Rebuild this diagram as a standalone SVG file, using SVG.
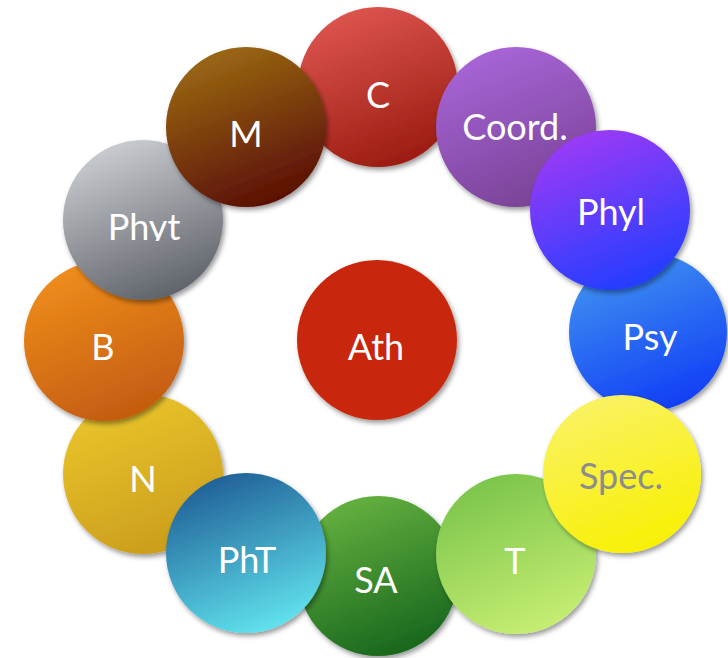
<svg xmlns="http://www.w3.org/2000/svg" width="728" height="658" viewBox="0 0 728 658">
<defs>
<style>
.n circle{filter:url(#sh)}
.t{font-family:Lato,"Noto Sans","DejaVu Sans",sans-serif;font-size:36px;fill:#fff;text-anchor:middle}
</style>
<filter id="sh" x="-20%" y="-20%" width="140%" height="140%">
<feDropShadow dx="2" dy="3" stdDeviation="2.5" flood-color="#000" flood-opacity="0.4"/>
</filter>
<linearGradient id="gC" x1="0.3" y1="0" x2="0.7" y2="1"><stop offset="0" stop-color="#DE5550"/><stop offset="1" stop-color="#991A0E"/></linearGradient>
<linearGradient id="gCo" x1="0.3" y1="0" x2="0.7" y2="1"><stop offset="0" stop-color="#A865D8"/><stop offset="1" stop-color="#784294"/></linearGradient>
<linearGradient id="gPl" x1="0.3" y1="0" x2="0.7" y2="1"><stop offset="0" stop-color="#9E3AF6"/><stop offset="1" stop-color="#1E3EFF"/></linearGradient>
<linearGradient id="gPs" x1="0.3" y1="0" x2="0.7" y2="1"><stop offset="0" stop-color="#4294F0"/><stop offset="1" stop-color="#0F3CF6"/></linearGradient>
<linearGradient id="gSp" x1="0.3" y1="0" x2="0.7" y2="1"><stop offset="0" stop-color="#FAF264"/><stop offset="1" stop-color="#F8F000"/></linearGradient>
<linearGradient id="gT" x1="0.3" y1="0" x2="0.7" y2="1"><stop offset="0" stop-color="#7AC44A"/><stop offset="1" stop-color="#C8EF74"/></linearGradient>
<linearGradient id="gSA" x1="0.3" y1="0" x2="0.7" y2="1"><stop offset="0" stop-color="#66B240"/><stop offset="1" stop-color="#15641C"/></linearGradient>
<linearGradient id="gPh" x1="0.3" y1="0" x2="0.7" y2="1"><stop offset="0" stop-color="#1F5E96"/><stop offset="1" stop-color="#62E6F0"/></linearGradient>
<linearGradient id="gN" x1="0.3" y1="0" x2="0.7" y2="1"><stop offset="0" stop-color="#EAC62C"/><stop offset="1" stop-color="#CA9C1C"/></linearGradient>
<linearGradient id="gB" x1="0.3" y1="0" x2="0.7" y2="1"><stop offset="0" stop-color="#F08E1C"/><stop offset="1" stop-color="#C25A10"/></linearGradient>
<linearGradient id="gPy" x1="0.3" y1="0" x2="0.7" y2="1"><stop offset="0" stop-color="#CBCED2"/><stop offset="1" stop-color="#5C6067"/></linearGradient>
<linearGradient id="gM" x1="0.3" y1="0" x2="0.7" y2="1"><stop offset="0" stop-color="#9C6A14"/><stop offset="1" stop-color="#580C04"/></linearGradient>
<clipPath id="cPy"><rect x="60" y="140" width="170" height="101"/></clipPath>
</defs>
<g id="connectors"/>
<g id="node-C" class="n"><circle cx="378" cy="87" r="80" fill="url(#gC)"/><text class="t" x="378" y="108">C</text></g>
<g id="node-Psy" class="n"><circle cx="648" cy="332" r="79" fill="url(#gPs)"/><text class="t" x="650" y="350">Psy</text></g>
<g id="node-SA" class="n"><circle cx="378" cy="576" r="80" fill="url(#gSA)"/><text class="t" x="376" y="593">SA</text></g>
<g id="node-N" class="n"><circle cx="143" cy="474" r="80" fill="url(#gN)"/><text class="t" x="143" y="492">N</text></g>
<g id="node-Coord" class="n"><circle cx="516" cy="127" r="80" fill="url(#gCo)"/><text class="t" x="515" y="140">Coord.</text></g>
<g id="node-T" class="n"><circle cx="516" cy="554" r="80" fill="url(#gT)"/><text class="t" x="515" y="574">T</text></g>
<g id="node-B" class="n"><circle cx="104" cy="341" r="80" fill="url(#gB)"/><text class="t" x="103" y="360">B</text></g>
<g id="node-Phyl" class="n"><circle cx="610" cy="210" r="80" fill="url(#gPl)"/><text class="t" x="611" y="225">Phyl</text></g>
<g id="node-Spec" class="n"><circle cx="622" cy="474" r="79" fill="url(#gSp)"/><text class="t" x="621" y="489" style="fill:#8C8C8C">Spec.</text></g>
<g id="node-PhT" class="n"><circle cx="246" cy="553" r="80" fill="url(#gPh)"/><text class="t" x="247" y="573">PhT</text></g>
<g id="node-Phyt" class="n"><circle cx="143" cy="220" r="80" fill="url(#gPy)"/><text class="t" x="144" y="240" clip-path="url(#cPy)">Phyt</text></g>
<g id="node-M" class="n"><circle cx="246" cy="127" r="80" fill="url(#gM)"/><text class="t" x="246" y="147">M</text></g>
<g id="node-Ath" class="n"><circle cx="377" cy="340" r="80" fill="#C8280A"/><text class="t" x="376" y="360">Ath</text></g>
</svg>
